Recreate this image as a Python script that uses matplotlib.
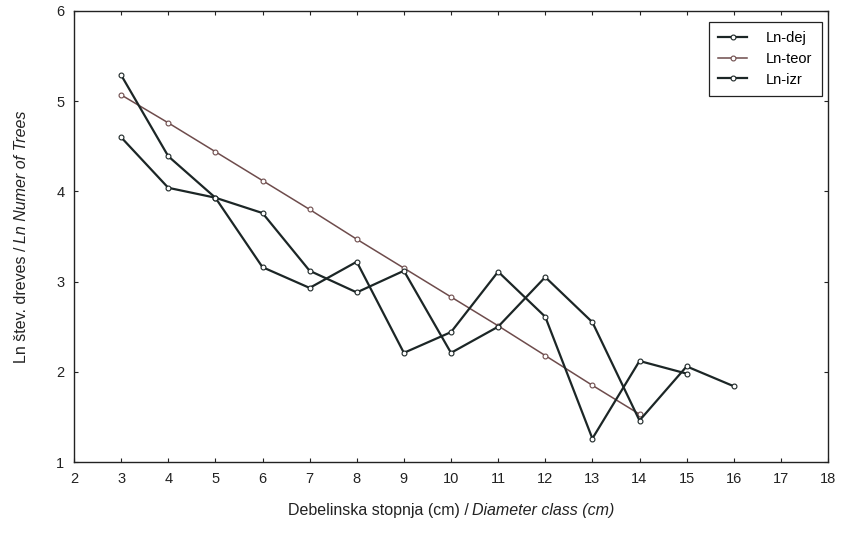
import matplotlib
matplotlib.use("Agg")
import matplotlib.pyplot as plt

plt.rcParams["font.family"] = ["Liberation Sans", "DejaVu Sans"]

# debelinske stopnje (cm)
x_dej = [3, 4, 5, 6, 7, 8, 9, 10, 11, 12, 13, 14, 15]
ln_dej = [5.29, 4.39, 3.93, 3.16, 2.93, 3.22, 2.21, 2.44, 3.11, 2.61, 1.26, 2.12, 1.98]

x_teor = [3, 4, 5, 6, 7, 8, 9, 10, 11, 12, 13, 14]
ln_teor = [5.07, 4.76, 4.44, 4.12, 3.80, 3.47, 3.15, 2.83, 2.51, 2.18, 1.85, 1.53]

x_izr = [3, 4, 5, 6, 7, 8, 9, 10, 11, 12, 13, 14, 15, 16]
ln_izr = [4.60, 4.04, 3.93, 3.76, 3.12, 2.88, 3.12, 2.21, 2.50, 3.05, 2.55, 1.46, 2.06, 1.84]

x_ticks = list(range(2, 19))
y_ticks = [1, 2, 3, 4, 5, 6]

xlab = ("Debelinska stopnja (cm) /", "Diameter class (cm)")
ylab = ("Ln štev. dreves /", "Ln Numer of Trees")

line_c = "#1c2626"
teor_c = "#6e4c4c"
text_c = "#222222"

fig = plt.figure(figsize=(8.41, 5.39), dpi=100, facecolor="white")
ax = fig.add_axes([74 / 841, 1 - 462 / 539, (828 - 74) / 841, (462 - 11) / 539])

mk = dict(marker="o", markersize=3.5, markerfacecolor="white", markeredgewidth=0.8)
ax.plot(x_dej, ln_dej, color=line_c, linewidth=1.6, markeredgecolor=line_c,
        label="Ln-dej", zorder=3, **mk)
ax.plot(x_teor, ln_teor, color=teor_c, linewidth=1.1, markeredgecolor=teor_c,
        label="Ln-teor", zorder=2, **mk)
ax.plot(x_izr, ln_izr, color=line_c, linewidth=1.6, markeredgecolor=line_c,
        label="Ln-izr", zorder=3, **mk)

ax.set_xlim(2, 18)
ax.set_ylim(1, 6)
ax.set_xticks(x_ticks)
ax.set_yticks(y_ticks)
ax.tick_params(direction="in", length=3, width=0.8, labelsize=10.5,
               top=True, right=True, colors=text_c, pad=7)
for s in ax.spines.values():
    s.set_linewidth(1.0)
    s.set_color(text_c)

leg = ax.legend(loc="upper right", bbox_to_anchor=(822 / 841, 1 - 22 / 539),
                bbox_transform=fig.transFigure, borderaxespad=0, numpoints=1,
                fancybox=False, framealpha=1, edgecolor=text_c,
                fontsize=10.5, handlelength=2.0, handletextpad=1.3,
                labelspacing=0.45, borderpad=0.65)
leg.get_frame().set_linewidth(0.9)

# axis labels: plain part + italic part
fs = 11.5
gap = fs * 0.3
fig.canvas.draw()
rend = fig.canvas.get_renderer()

# x label, centred under the axes
a1 = fig.text(0, 0, xlab[0], fontsize=fs, color=text_c, va="center", ha="left")
a2 = fig.text(0, 0, xlab[1], fontsize=fs, color=text_c, va="center", ha="left",
              style="italic")
w1 = a1.get_window_extent(rend).width
w2 = a2.get_window_extent(rend).width
cx = (74 + 828) / 2
y_px = 539 - 510
x0 = cx - (w1 + gap + w2) / 2
a1.set_position((x0 / 841, y_px / 539))
a2.set_position(((x0 + w1 + gap) / 841, y_px / 539))

# y label, rotated, centred beside the axes
b1 = fig.text(0, 0, ylab[0], fontsize=fs, color=text_c, va="center", ha="left",
              rotation=90, rotation_mode="anchor")
b2 = fig.text(0, 0, ylab[1], fontsize=fs, color=text_c, va="center", ha="left",
              rotation=90, rotation_mode="anchor", style="italic")
h1 = b1.get_window_extent(rend).height
h2 = b2.get_window_extent(rend).height
cy = 539 - (11 + 462) / 2
x_px = 21
y0 = cy - (h1 + gap + h2) / 2
b1.set_position((x_px / 841, y0 / 539))
b2.set_position((x_px / 841, (y0 + h1 + gap) / 539))

fig.savefig("out.png", dpi=100, facecolor="white")
